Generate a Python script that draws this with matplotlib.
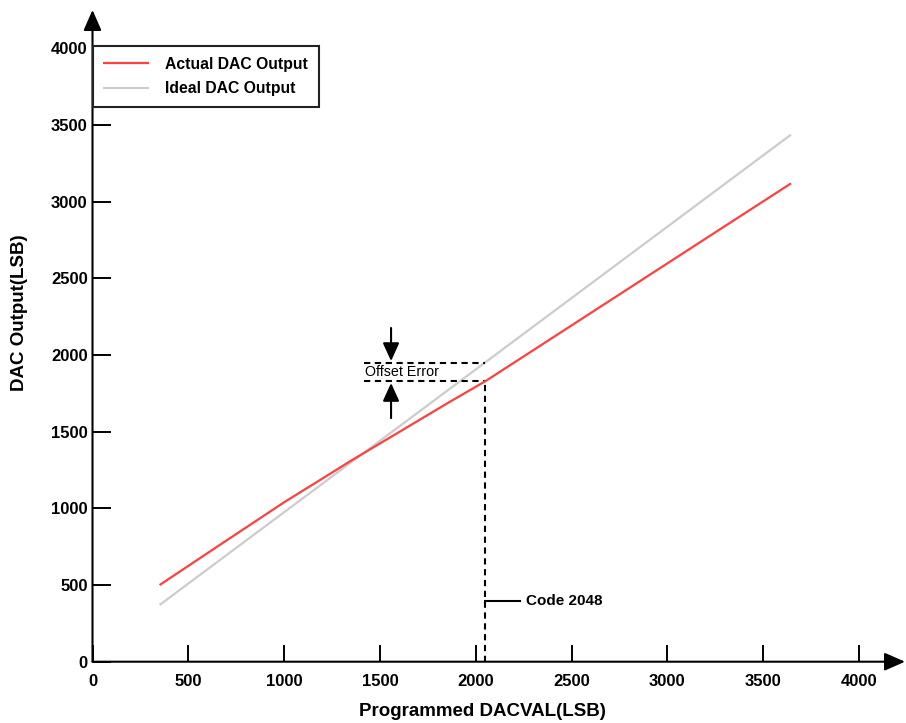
import numpy as np
import matplotlib
matplotlib.use("Agg")
import matplotlib.pyplot as plt

plt.rcParams['font.family'] = ['Liberation Sans', 'DejaVu Sans']

# Transfer curve data (LSB)
codes_actual = [350, 650, 1000, 1200, 1350, 1600, 1860, 2048, 2650, 3280, 3645]
dac_actual = [500, 750, 1040, 1195, 1312, 1498, 1692, 1828, 2315, 2825, 3120]
codes_ideal = [350, 3645]
dac_ideal = [370, 3438]

x_ticks = [0, 500, 1000, 1500, 2000, 2500, 3000, 3500, 4000]
y_ticks = [0, 500, 1000, 1500, 2000, 2500, 3000, 3500, 4000]
mid_code = 2048

W, H = 906, 723
fig = plt.figure(figsize=(W / 100, H / 100), dpi=100)
left, right, bottom, top = 92.5, 905, 661.7, 10
ax = fig.add_axes([left / W, (H - bottom) / H, (right - left) / W, (bottom - top) / H])
ax.set_xlim(0, 4240)
ax.set_ylim(0, 4251)
for s in ax.spines.values():
    s.set_visible(False)

# axis lines with arrow heads
arrow_kw = dict(arrowstyle='-|>,head_length=1.25,head_width=0.55', lw=1.5,
                color='black', shrinkA=0, shrinkB=0, mutation_scale=10)
ax.annotate('', xy=(1, 0), xytext=(0, 0), xycoords='axes fraction',
            arrowprops=arrow_kw, annotation_clip=False)
ax.annotate('', xy=(0, 1), xytext=(0, 0), xycoords='axes fraction',
            arrowprops=arrow_kw, annotation_clip=False)

ax.set_xticks(x_ticks)
ax.set_yticks(y_ticks)
ax.tick_params(axis='x', direction='in', length=12.2, width=1.4, pad=9, labelsize=12)
ax.tick_params(axis='y', direction='in', length=13, width=1.4, pad=3.5, labelsize=12)
for lab in ax.get_xticklabels() + ax.get_yticklabels():
    lab.set_fontweight('bold')

# curves
ax.plot(codes_actual, dac_actual, color='#FF4040', lw=1.6, label='Actual DAC Output',
        solid_capstyle='butt', solid_joinstyle='round', zorder=3)
ax.plot(codes_ideal, dac_ideal, color='#CCCCCC', lw=1.6, label='Ideal DAC Output',
        solid_capstyle='butt', zorder=2)

# offset error annotation at mid-scale code
y_act = np.interp(mid_code, codes_actual, dac_actual)
y_ide = np.interp(mid_code, codes_ideal, dac_ideal)
dash = dict(color='black', lw=1.5, ls=(0, (3, 2.2)))
ax.plot([1417, mid_code], [y_ide, y_ide], **dash)
ax.plot([1417, mid_code], [y_act, y_act], **dash)
ax.plot([mid_code, mid_code], [0, y_act], **dash)

pointer = dict(arrowstyle='-|>,head_length=1.1,head_width=0.5', lw=1.5,
               color='black', shrinkA=0, shrinkB=0, mutation_scale=10)
ax.annotate('', xy=(1558, y_ide + 10), xytext=(1558, 2177), arrowprops=pointer)
ax.annotate('', xy=(1558, y_act - 10), xytext=(1558, 1589), arrowprops=pointer)
ax.text(1420, (y_ide + y_act) / 2, 'Offset Error', fontsize=10.3, ha='left', va='center')

ax.plot([mid_code, mid_code + 183], [398, 398], color='black', lw=1.5)
ax.text(mid_code + 215, 398, 'Code 2048', fontsize=11, fontweight='bold',
        ha='left', va='center')

# axis titles
ax.set_xlabel('Programmed DACVAL(LSB)', fontsize=13.5, fontweight='bold')
ax.xaxis.set_label_coords(0.48, -0.077)
ax.xaxis.label.set_va('center')
ax.set_ylabel('DAC Output(LSB)', fontsize=13.5, fontweight='bold')
ax.yaxis.set_label_coords(-0.09, 0.535)
ax.yaxis.label.set_va('center')

leg = ax.legend(loc='upper left', bbox_to_anchor=(0, (bottom - 46) / (bottom - top)),
                borderaxespad=0, fancybox=False, framealpha=1, edgecolor='#222222',
                prop={'size': 11.3, 'weight': 'bold'}, handlelength=2.9,
                handletextpad=1.05, borderpad=0.68, labelspacing=0.62)
leg.get_frame().set_linewidth(1.5)

fig.savefig('out.png', dpi=100)
